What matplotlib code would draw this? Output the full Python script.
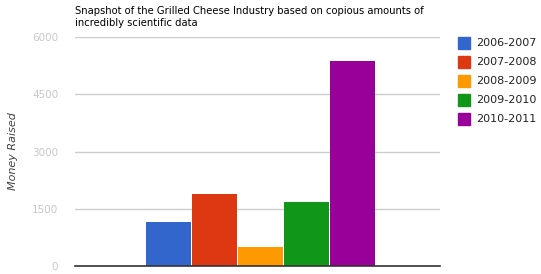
import matplotlib
matplotlib.use("Agg")
import matplotlib.pyplot as plt
from matplotlib.patches import Rectangle

title = "Snapshot of the Grilled Cheese Industry based on copious amounts of\nincredibly scientific data"
series = ["2006-2007", "2007-2008", "2008-2009", "2009-2010", "2010-2011"]
values = [1160, 1890, 500, 1680, 5370]
colors = ["#3366cc", "#dc3912", "#ff9900", "#109618", "#990099"]
yticks = [0, 1500, 3000, 4500, 6000]
ylabel = "Money Raised"

W, H = 541, 274
fig = plt.figure(figsize=(W / 100, H / 100), dpi=100)
ax = fig.add_axes([75 / W, (H - 266.3) / H, (440 - 75) / W, (266.3 - 37) / H])

for i, (v, c) in enumerate(zip(values, colors)):
    ax.bar(i, v, width=0.97, color=c, zorder=3, label=series[i])

ax.set_xlim(-2.03, 5.90)
ax.set_ylim(0, 6000)
ax.set_yticks(yticks)
ax.set_yticklabels([str(t) for t in yticks], color="#c8c8c8", fontsize=7.5)
ax.tick_params(axis="y", length=0, pad=12)
ax.set_xticks([])
for s in ["top", "right", "left"]:
    ax.spines[s].set_visible(False)
ax.spines["bottom"].set_color("#333333")
ax.spines["bottom"].set_linewidth(1.2)
ax.spines["bottom"].set_zorder(4)
ax.yaxis.grid(True, color="#cccccc", linewidth=1)
ax.set_axisbelow(True)

fig.text(13 / W, 1 - 151 / H, ylabel, rotation=90, style="italic", color="#444444",
         fontsize=8, ha="center", va="center")
fig.text(75 / W, 1 - 6 / H, title, fontsize=7.2, color="#000000", ha="left", va="top",
         linespacing=1.3)

# legend
for i, (s, c) in enumerate(zip(series, colors)):
    yc = 43 + 19 * i
    fig.patches.append(Rectangle((458 / W, 1 - (yc + 6) / H), 12 / W, 12 / H,
                                 transform=fig.transFigure, color=c, figure=fig))
    fig.text(476 / W, 1 - yc / H, s, fontsize=8, color="#222222", ha="left", va="center")

fig.savefig("out.png", dpi=100)
